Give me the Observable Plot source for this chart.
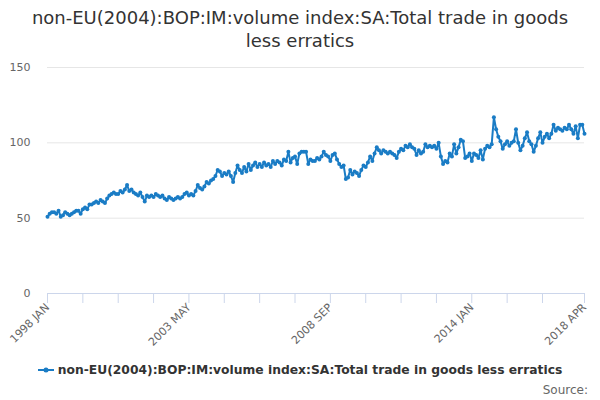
<!DOCTYPE html>
<html>
<head>
<meta charset="utf-8">
<script src="https://cdn.jsdelivr.net/npm/d3@7"></script>
<script src="https://cdn.jsdelivr.net/npm/@observablehq/plot@0.6"></script>
<style>
  html, body { margin: 0; padding: 0; background: #fff; }
  #wrap { position: relative; width: 600px; height: 400px; font-family: "DejaVu Sans", sans-serif; }
  #title { position: absolute; top: 6px; left: 0; width: 600px; text-align: center; font-size: 18px; line-height: 23px; color: #333; }
  #legend { position: absolute; top: 363px; left: 0; width: 600px; text-align: center; font-size: 12.3px; font-weight: bold; color: #333; display: flex; justify-content: center; align-items: center; }
  #legend svg { margin-right: 4px; }
  #source { position: absolute; top: 383px; right: 12px; font-size: 12px; color: #666; }
  #chart { position: absolute; top: 0; left: 0; }
</style>
</head>
<body>
<div id="wrap">
  <div id="chart"></div>
  <div id="title">non-EU(2004):BOP:IM:volume index:SA:Total trade in goods<br>less erratics</div>
  <div id="legend"></div>
  <div id="source">Source:</div>
</div>
<script>
const seriesName = "non-EU(2004):BOP:IM:volume index:SA:Total trade in goods less erratics";
const monthNames = ["JAN","FEB","MAR","APR","MAY","JUN","JUL","AUG","SEP","OCT","NOV","DEC"];
const startYear = 1998;

const v1998 = [51, 53, 54, 54, 53, 55, 51, 52, 54, 53, 52, 53];
const v1999 = [54, 55, 55, 53, 56, 57, 56, 59, 59, 60, 61, 60];
const v2000 = [62, 61, 60, 63, 65, 66, 67, 66, 66, 68, 67, 69];
const v2001 = [72, 68, 69, 67, 66, 65, 67, 64, 61, 65, 64, 65];
const v2002 = [64, 66, 65, 64, 65, 63, 62, 64, 63, 62, 63, 64];
const v2003 = [63, 64, 66, 67, 65, 66, 65, 68, 72, 70, 69, 71];
const v2004 = [74, 73, 75, 76, 78, 82, 81, 78, 80, 79, 81, 78];
const v2005 = [74, 80, 85, 82, 80, 84, 81, 86, 82, 85, 87, 84];
const v2006 = [86, 84, 87, 85, 86, 84, 88, 86, 88, 87, 85, 89];
const v2007 = [88, 94, 87, 90, 91, 86, 93, 94, 94, 94, 86, 89];
const v2008 = [88, 88, 90, 89, 91, 94, 92, 91, 88, 92, 93, 89];
const v2009 = [86, 84, 85, 76, 77, 82, 79, 81, 80, 78, 82, 85];
const v2010 = [84, 87, 91, 88, 93, 97, 95, 93, 95, 94, 93, 94];
const v2011 = [93, 92, 90, 94, 96, 95, 98, 97, 99, 97, 96, 92];
const v2012 = [95, 93, 94, 99, 97, 98, 97, 98, 96, 100, 91, 86];
const v2013 = [88, 87, 93, 91, 99, 93, 97, 102, 101, 90, 91, 93];
const v2014 = [88, 93, 92, 90, 95, 89, 96, 98, 97, 99, 117, 109];
const v2015 = [104, 101, 96, 99, 101, 98, 100, 101, 109, 100, 95, 98];
const v2016 = [103, 107, 101, 99, 94, 98, 103, 107, 100, 104, 106, 103];
const v2017 = [106, 112, 108, 110, 109, 108, 110, 109, 112, 109, 106, 111];
const v2018 = [103, 112, 112, 106];

const yearly = [v1998, v1999, v2000, v2001, v2002, v2003, v2004, v2005, v2006, v2007,
                v2008, v2009, v2010, v2011, v2012, v2013, v2014, v2015, v2016, v2017, v2018];

const tickLabels = ["1998 JAN", "2003 MAY", "2008 SEP", "2014 JAN", "2018 APR"];
const yTicks = [0, 50, 100, 150];

const data = [];
yearly.forEach((arr, yi) => {
  arr.forEach((v, mi) => {
    data.push({i: data.length, label: `${startYear + yi} ${monthNames[mi]}`, value: v});
  });
});
const lastIndex = data.length - 1;
const labelByIndex = new Map(data.map(d => [d.i, d.label]));
const tickIdx = d3.range(0, lastIndex - 16, 16).concat([lastIndex]);

const color = "#1a7cc5";

const chart = Plot.plot({
  width: 600,
  height: 400,
  marginTop: 67,
  marginBottom: 107,
  marginLeft: 47,
  marginRight: 16,
  style: {fontFamily: "DejaVu Sans, sans-serif", fontSize: "11px", color: "#666", background: "#fff"},
  x: {domain: [0, lastIndex]},
  y: {domain: [0, 150]},
  marks: [
    Plot.gridY(yTicks.filter(t => t > 0), {stroke: "#e6e6e6", strokeOpacity: 1}),
    Plot.axisY(yTicks, {tickSize: 0, tickPadding: 17, label: null, fontSize: 11, fill: "#666"}),
    Plot.ruleY([0], {stroke: "#ccd6eb"}),
    Plot.axisX(tickIdx, {
      tickSize: 10, stroke: "#ccd6eb", tickPadding: 2, label: null,
      tickRotate: -45, fontSize: 11, fill: "#666",
      tickFormat: i => tickLabels.includes(labelByIndex.get(i)) ? labelByIndex.get(i) : ""
    }),
    Plot.line(data, {x: "i", y: "value", stroke: color, strokeWidth: 2}),
    Plot.dot(data, {x: "i", y: "value", fill: color, r: 2})
  ]
});
document.getElementById("chart").appendChild(chart);

// legend
const leg = document.getElementById("legend");
const ns = "http://www.w3.org/2000/svg";
const ls = document.createElementNS(ns, "svg");
ls.setAttribute("width", 16); ls.setAttribute("height", 12);
const ln = document.createElementNS(ns, "line");
ln.setAttribute("x1", 0); ln.setAttribute("x2", 16); ln.setAttribute("y1", 6); ln.setAttribute("y2", 6);
ln.setAttribute("stroke", color); ln.setAttribute("stroke-width", 2);
const cc = document.createElementNS(ns, "circle");
cc.setAttribute("cx", 8); cc.setAttribute("cy", 6); cc.setAttribute("r", 2.5); cc.setAttribute("fill", color);
ls.appendChild(ln); ls.appendChild(cc);
leg.appendChild(ls);
const sp = document.createElement("span");
sp.textContent = seriesName;
leg.appendChild(sp);
</script>
</body>
</html>
